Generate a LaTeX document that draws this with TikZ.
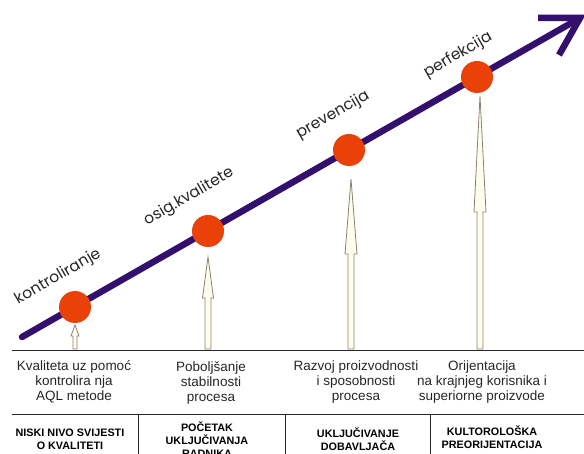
\documentclass[tikz,border=0pt]{standalone}
\usepackage{fontspec}
\setmainfont{Liberation Sans}
\newfontfamily\geofont{Poppins}
\definecolor{lineviolet}{RGB}{52,16,110}
\definecolor{dotred}{RGB}{234,65,8}
\definecolor{arrfill}{RGB}{255,253,236}
\definecolor{arredge}{RGB}{140,128,115}
\newcommand\blockup[6]{%
  \draw[blockarrow] (#1-#6,#4) -- (#1-#6,#3) -- (#1-#5,#3) -- (#1,#2) -- (#1+#5,#3) -- (#1+#6,#3) -- (#1+#6,#4) -- cycle;}
\begin{document}
\begin{tikzpicture}[x=1pt,y=-1pt,
  stage/.style={font=\geofont\fontsize{15.5}{17}\selectfont, rotate=30, inner sep=0pt, text=black!85},
  dot/.style={circle, fill=dotred, minimum size=32pt, inner sep=0pt},
  desc/.style={font=\fontsize{13.5}{15}\selectfont, align=center, inner sep=0pt, text=black!85},
  phase/.style={font=\bfseries\fontsize{10.8}{13}\selectfont, align=center, inner sep=0pt},
  blockarrow/.style={fill=arrfill, draw=arredge, line width=0.8pt, line join=miter},
  rule/.style={draw=black!85, line width=1pt}
]
\useasboundingbox (0,0) rectangle (584,454);

% main rising line with open arrowhead
\coordinate (start) at (22,337);
\coordinate (tip) at (580,18);
\coordinate (armA) at (538,18);
\coordinate (armB) at (559,55);
\draw[lineviolet, line width=6.5pt, line cap=round] (start) -- (tip);
\draw[lineviolet, line width=6.5pt, line join=miter, miter limit=10] (armA) -- (tip) -- (armB);

% block arrows
\blockup{75}{325}{336}{349}{4}{2}
\blockup{208}{257}{298}{349}{5.5}{3}
\blockup{351}{179}{254}{349}{6}{3}
\blockup{480}{96}{212}{349}{6}{3}

% dots
\node[dot] (d1) at (75,307) {};
\node[dot] (d2) at (208,231) {};
\node[dot] (d3) at (349,150) {};
\node[dot] (d4) at (477,77) {};

% stage labels
\node[stage] (s1) at (58,277) {kontroliranje};
\node[stage] (s2) at (189,197) {osig.kvalitete};
\node[stage] (s3) at (333,115) {prevencija};
\node[stage] (s4) at (458,55) {perfekcija};

% rules
\coordinate (r1l) at (12,351); \coordinate (r1r) at (584,351);
\coordinate (r2l) at (12,414); \coordinate (r2r) at (584,414);
\draw[rule] (r1l) -- (r1r);
\draw[rule] (r2l) -- (r2r);
\foreach \x [count=\i] in {138,285,430} {
  \coordinate (vt\i) at (\x,414); \coordinate (vb\i) at (\x,454);
  \draw[rule] (vt\i) -- (vb\i);
}

% descriptions
\node[desc] (t1) at (74,382) {Kvaliteta uz pomoć\\kontrolira nja\\AQL metode};
\node[desc] (t2) at (211,383) {Poboljšanje\\stabilnosti\\procesa};
\node[desc] (t3) at (356,382) {Razvoj proizvodnosti\\i sposobnosti\\procesa};
\node[desc] (t4) at (482,382) {Orijentacija\\na krajnjeg korisnika i\\superiorne proizvode};

% phases
\node[phase] (p1) at (70,439) {NISKI NIVO SVIJESTI\\O KVALITETI};
\node[phase] (p2) at (207,440) {POČETAK\\UKLJUČIVANJA\\RADNIKA};
\node[phase] (p3) at (358,439.5) {UKLJUČIVANJE\\DOBAVLJAČA};
\node[phase] (p4) at (492,437.5) {KULTOROLOŠKA\\PREORIJENTACIJA};
\end{tikzpicture}
\end{document}
